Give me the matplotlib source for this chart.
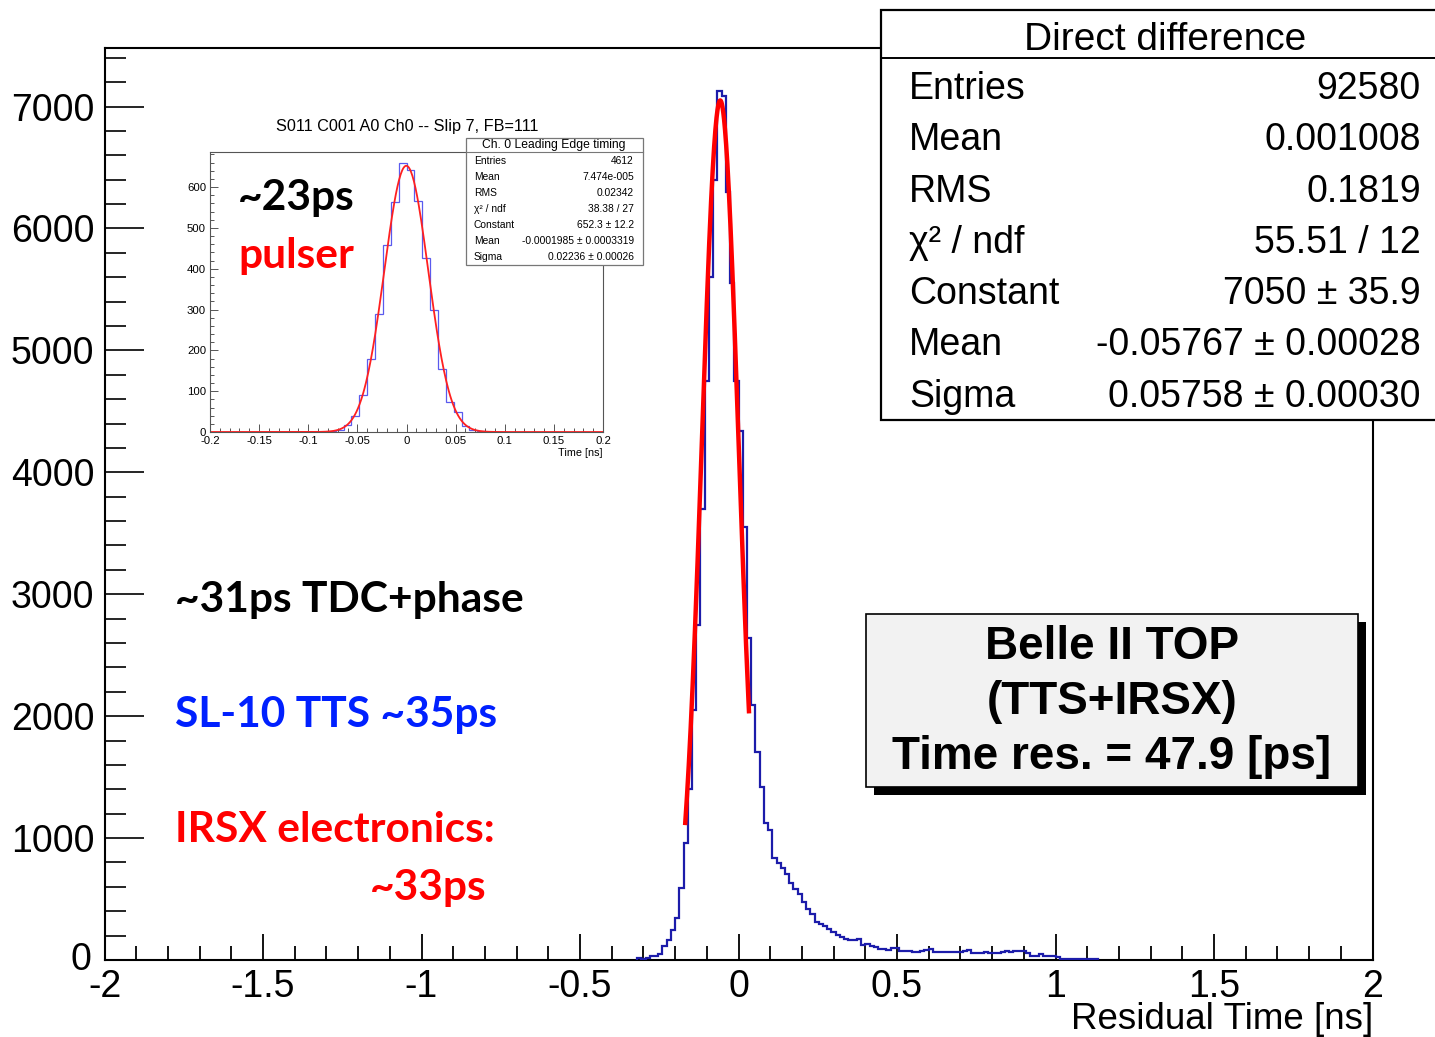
import numpy as np
import matplotlib
matplotlib.use("Agg")
import matplotlib.pyplot as plt
from matplotlib.patches import Rectangle
from matplotlib.lines import Line2D
from matplotlib.ticker import MultipleLocator
from matplotlib.transforms import ScaledTranslation

W, H, DPI = 1435, 1037, 100

# ---------------- data ----------------
main_range = (-2.0, 2.0)
main_nbins = 300
main_first_bin = 126
main_counts = [15, 10, 20, 30, 33, 49, 115, 164, 246, 342, 588, 963,
               1400, 2050, 2750, 3700, 4750, 5600, 6400, 7131, 7085, 6300,
               5550, 4750, 4340, 3550, 2640, 2093,
               1705, 1422, 1127, 1064, 834, 799, 752, 702, 632, 580,
               545, 475, 420, 380, 314, 292, 276, 256, 228, 205,
               186, 170, 165, 160, 175, 125, 130, 115,
               109, 90, 90, 82, 96, 96, 77, 77, 77, 63, 63, 77, 82, 90,
               66, 66, 66, 66, 66, 66, 66, 77, 82, 55, 55, 55, 68, 55, 55,
               60, 68, 77, 68, 77, 77, 77, 60, 36, 36, 47, 33, 33, 33, 22,
               11, 11, 11, 11, 11, 11, 11, 11, 11]

fit_constant = 7050.0
fit_mean = -0.05767
fit_sigma = 0.05758
fit_range = (-0.168, 0.033)

inset_range = (-0.2, 0.2)
inset_nbins = 50
inset_first_bin = 12
inset_counts = [1, 0, 0, 2, 6, 16, 38, 90, 180, 288, 457, 563, 659, 642,
                567, 426, 300, 155, 73, 49, 14, 6, 2, 0, 1]
inset_fit_constant = 652.3
inset_fit_mean = -0.0001985
inset_fit_sigma = 0.02236

main_stats_title = "Direct difference"
main_stats_labels = ["Entries", "Mean", "RMS", "χ² / ndf", "Constant", "Mean", "Sigma"]
main_stats_values = ["92580", "0.001008", "0.1819", "55.51 / 12", "7050 ± 35.9",
                     "-0.05767 ± 0.00028", "0.05758 ± 0.00030"]

inset_title = "S011 C001 A0 Ch0 -- Slip 7, FB=111"
inset_stats_title = "Ch. 0 Leading Edge timing"
inset_stats_labels = ["Entries", "Mean", "RMS", "χ² / ndf", "Constant", "Mean", "Sigma"]
inset_stats_values = ["4612", "7.474e-005", "0.02342", "38.38 / 27", "652.3 ± 12.2",
                      "-0.0001985 ± 0.0003319", "0.02236 ± 0.00026"]

belle_lines = ["Belle II TOP", "(TTS+IRSX)", "Time res. = 47.9 [ps]"]

# ---------------- figure ----------------
plt.rcParams['font.family'] = ['Liberation Sans', 'DejaVu Sans']
fig = plt.figure(figsize=(W / DPI, H / DPI), dpi=DPI)
fig.patch.set_facecolor('white')


def fx(px):
    return px / W


def fy(py):
    return 1 - py / H


def pt(px):
    return px * 72.0 / DPI


# main axes
ax = fig.add_axes([fx(104.5), fy(960), fx(1372.5) - fx(104.5), fy(48) - fy(960)])
edges = np.linspace(main_range[0], main_range[1], main_nbins + 1)
e = edges[main_first_bin:main_first_bin + len(main_counts) + 1]
ax.stairs(main_counts, e, color='#1c1caa', lw=1.6, zorder=3)
xs = np.linspace(fit_range[0], fit_range[1], 400)
ax.plot(xs, fit_constant * np.exp(-0.5 * ((xs - fit_mean) / fit_sigma) ** 2),
        color='#ff0000', lw=3.2, zorder=4)
ax.set_xlim(*main_range)
ax.set_ylim(0, 7480)
ax.xaxis.set_major_locator(MultipleLocator(0.5))
ax.xaxis.set_minor_locator(MultipleLocator(0.1))
ax.yaxis.set_major_locator(MultipleLocator(1000))
ax.yaxis.set_minor_locator(MultipleLocator(200))
ax.xaxis.set_major_formatter(matplotlib.ticker.FuncFormatter(lambda v, p: f"{v:g}"))
ax.tick_params(axis='x', which='major', direction='in', length=pt(26), width=1.3,
               labelsize=27, pad=pt(9))
ax.tick_params(axis='x', which='minor', direction='in', length=pt(14), width=1.3)
ax.tick_params(axis='y', which='major', direction='in', length=pt(39), width=1.2,
               labelsize=27, pad=pt(10))
ax.tick_params(axis='y', which='minor', direction='in', length=pt(21), width=1.2)
for s in ax.spines.values():
    s.set_linewidth(1.5)
fig.text(fx(1373), fy(1029), "Residual Time [ns]", ha='right', va='baseline', fontsize=26.5)

# inset axes
iax = fig.add_axes([fx(210), fy(432), fx(603) - fx(210), fy(152) - fy(432)], zorder=5)
iedges = np.linspace(inset_range[0], inset_range[1], inset_nbins + 1)
ie = iedges[inset_first_bin:inset_first_bin + len(inset_counts) + 1]
iax.stairs(inset_counts, ie, color='#5a5aee', lw=0.9)
ixs = np.linspace(inset_range[0], inset_range[1], 500)
iax.plot(ixs, inset_fit_constant * np.exp(-0.5 * ((ixs - inset_fit_mean) / inset_fit_sigma) ** 2),
         color='#ff2020', lw=1.3)
iax.set_xlim(*inset_range)
iax.set_ylim(0, 686)
iax.xaxis.set_major_locator(MultipleLocator(0.05))
iax.xaxis.set_minor_locator(MultipleLocator(0.01))
iax.yaxis.set_major_locator(MultipleLocator(100))
iax.yaxis.set_minor_locator(MultipleLocator(20))
iax.xaxis.set_major_formatter(matplotlib.ticker.FuncFormatter(lambda v, p: f"{v:g}"))
iax.tick_params(which='major', direction='in', length=pt(8), width=0.7, labelsize=8.2,
                pad=pt(4), color='#555555')
iax.tick_params(axis='y', which='major', pad=pt(4))
iax.tick_params(which='minor', direction='in', length=pt(4), width=0.7, color='#555555')
for s in iax.spines.values():
    s.set_linewidth(0.8)
    s.set_color('#555555')
fig.text(fx(407), fy(126), inset_title, ha='center', va='center', fontsize=11.7, zorder=6)
fig.text(fx(603), fy(453), "Time [ns]", ha='right', va='center', fontsize=7.8, zorder=6)

# inset stats box
fig.add_artist(Rectangle((fx(466), fy(265)), fx(643) - fx(466), fy(138) - fy(265),
                         transform=fig.transFigure, fc='white', ec='#777777', lw=0.9, zorder=7))
fig.add_artist(Line2D([fx(466), fx(643)], [fy(152), fy(152)], transform=fig.transFigure,
                      color='#777777', lw=0.8, zorder=8))
fig.text(fx(554), fy(145), inset_stats_title, ha='center', va='center', fontsize=8.7, zorder=8)
for i, (lab, val) in enumerate(zip(inset_stats_labels, inset_stats_values)):
    y = 161 + 16 * i
    fig.text(fx(474), fy(y), lab, ha='left', va='center', fontsize=7.4, zorder=8)
    fig.text(fx(634), fy(y), val, ha='right', va='center', fontsize=7.4, zorder=8)

# main stats box
fig.add_artist(Rectangle((fx(881), fy(420)), fx(1445) - fx(881), fy(10) - fy(420),
                         transform=fig.transFigure, fc='white', ec='black', lw=1.6, zorder=10))
fig.add_artist(Line2D([fx(881), fx(1445)], [fy(58), fy(58)], transform=fig.transFigure,
                      color='black', lw=1.4, zorder=11))
fig.text(fx(1165), fy(40), main_stats_title, ha='center', va='center', fontsize=28, zorder=11)
for i, (lab, val) in enumerate(zip(main_stats_labels, main_stats_values)):
    y = 89 + 51.3 * i
    fig.text(fx(909), fy(y), lab, ha='left', va='center', fontsize=27, zorder=11)
    fig.text(fx(1421), fy(y), val, ha='right', va='center', fontsize=27, zorder=11)

# Belle II box with shadow
fig.add_artist(Rectangle((fx(874), fy(795)), fx(1366) - fx(874), fy(622) - fy(795),
                         transform=fig.transFigure, fc='black', ec='black', lw=0, zorder=10))
fig.add_artist(Rectangle((fx(866), fy(787)), fx(1358) - fx(866), fy(614) - fy(787),
                         transform=fig.transFigure, fc='#f2f2f2', ec='black', lw=1.2, zorder=11))
for y, line in zip([647, 702, 757], belle_lines):
    fig.text(fx(1112), fy(y), line, ha='center', va='center', fontsize=33,
             fontweight='bold', zorder=12)

# annotations
ann_font = dict(family=['Lato', 'DejaVu Sans'], fontweight='bold', fontsize=30.6)
fig.text(fx(238), fy(210), "~23ps", color='black', ha='left', va='baseline', zorder=9, **ann_font)
fig.text(fx(238), fy(268), "pulser", color='#ff0000', ha='left', va='baseline', zorder=9, **ann_font)
fig.text(fx(175), fy(612), "~31ps TDC+phase", color='black', ha='left', va='baseline', **ann_font)
fig.text(fx(175), fy(727), "SL-10 TTS ~35ps", color='#0020ff', ha='left', va='baseline', **ann_font)
fig.text(fx(175), fy(842), "IRSX electronics:", color='#ff0000', ha='left', va='baseline', **ann_font)
fig.text(fx(370), fy(900), "~33ps", color='#ff0000', ha='left', va='baseline', **ann_font)

# nudge the y "0" label slightly so it does not collide with the x "-2" label
fig.canvas.draw()
for tk in ax.yaxis.get_major_ticks():
    if abs(tk.get_loc()) < 1e-9:
        lab = tk.label1
        lab.set_transform(lab.get_transform() +
                          ScaledTranslation(-3 / DPI, 4 / DPI, fig.dpi_scale_trans))

fig.savefig("out.png", dpi=DPI)
